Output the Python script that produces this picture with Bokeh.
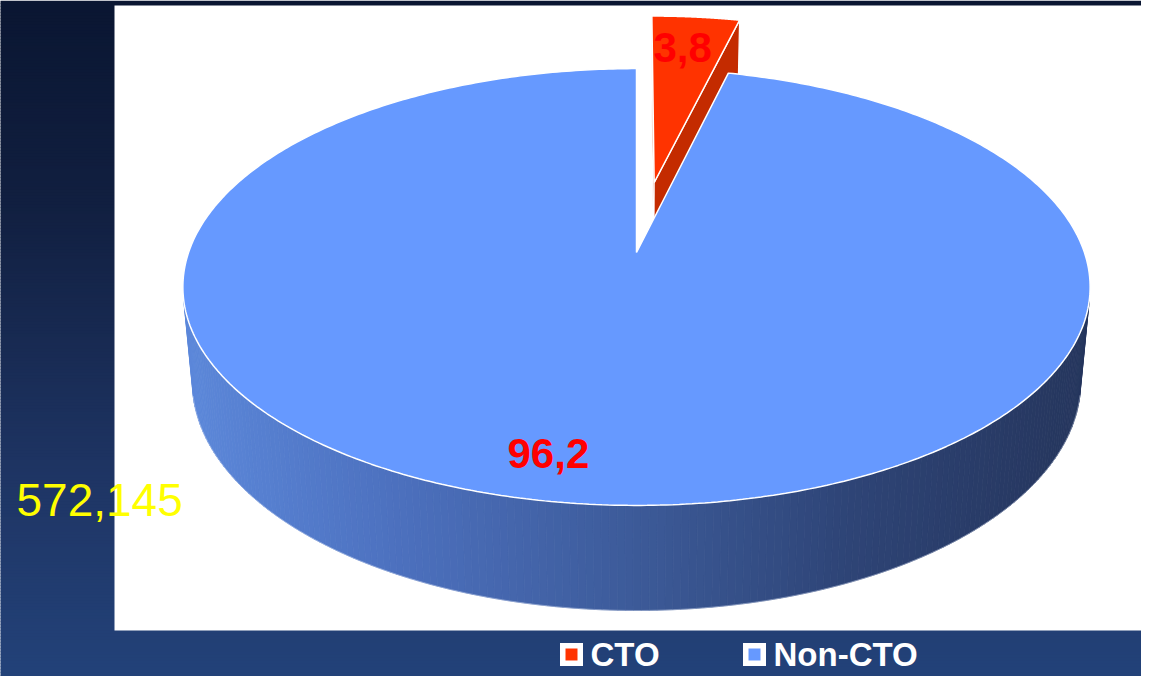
import numpy as np
from bokeh.plotting import figure
from bokeh.models import Range1d
from bokeh.embed import file_html
from bokeh.resources import INLINE
from bokeh.core.properties import value

# ---------------- data ----------------
categories = ["CTO", "Non-CTO"]
shares = [3.8, 96.2]
share_labels = ["3,8", "96,2"]
total_label = "572,145"
top_colors = ["#ff3300", "#6699ff"]
cut_colors = ["#c42b00", "#4a72c4"]
explode = [0.349, 0.0]

# ---------------- 3D camera (perspective) ----------------
F, D = 2495.0, 5.57
SIN_E = 0.4754
COS_E = float(np.sqrt(1 - SIN_E ** 2))
CX, CY = 636.0, 252.0
H = 0.2434
CAM = np.array([0.0, D * SIN_E, -D * COS_E])


def proj(X, Y, Z):
    X = np.atleast_1d(np.asarray(X, float))
    Z = np.atleast_1d(np.asarray(Z, float))
    Y = np.zeros_like(X) + Y
    yp = Y * COS_E + Z * SIN_E
    zp = -Y * SIN_E + Z * COS_E
    return CX + F * X / (D + zp), CY - F * yp / (D + zp)


def lerp_stops(v, stops):
    xs = [s[0] for s in stops]
    out = []
    for k in range(3):
        out.append(int(round(np.interp(v, xs, [s[1][k] for s in stops]))))
    return "#%02x%02x%02x" % tuple(out)


W, HH = 1141, 676
p = figure(width=W, height=HH, output_backend="svg", toolbar_location=None,
           x_range=Range1d(0, W), y_range=Range1d(HH, 0),
           min_border=0)
p.axis.visible = False
p.grid.visible = False
p.outline_line_color = None
p.background_fill_color = "#ffffff"
p.border_fill_color = "#ffffff"

# ---------------- slide background gradient ----------------
bg_stops = [(0, (10, 22, 50)), (200, (17, 31, 64)), (490, (31, 54, 102)), (692, (35, 67, 123))]
ys = np.arange(0, 694, 3)
p.quad(left=-5, right=1160, top=ys[:-1], bottom=ys[1:] + 0.5,
       fill_color=[lerp_stops(y, bg_stops) for y in ys[:-1]],
       line_color=None)
# white chart panel
p.quad(left=[114], right=[1160], top=[5], bottom=[630], fill_color="white", line_color=None)

# ---------------- pie geometry ----------------
starts, ends = [], []
a = 90.0
for s in shares:
    starts.append(a)
    a -= s * 3.6
    ends.append(a)

side_stops = [(185, (92, 136, 218)), (400, (76, 112, 190)), (640, (60, 90, 152)),
              (850, (46, 68, 118)), (1090, (37, 53, 92))]

order = sorted(range(len(shares)), key=lambda i: -explode[i])  # exploded (back) first
for i in order:
    a0, a1 = np.radians(starts[i]), np.radians(ends[i])
    mid = (a0 + a1) / 2
    ox, oz = explode[i] * np.cos(mid), explode[i] * np.sin(mid)
    rel = CAM - np.array([ox, 0.0, oz])

    # outer side (front-facing part)
    t = np.linspace(a1, a0, 400)
    nvis = np.cos(t) * (rel[0] - np.cos(t)) + np.sin(t) * (rel[2] - np.sin(t))
    tv = t[nvis > 0]
    if len(tv) > 1:
        tx, ty = proj(ox + np.cos(tv), 0.0, oz + np.sin(tv))
        bx, by = proj(ox + np.cos(tv), -H, oz + np.sin(tv))
        xs_l, ys_l, cols = [], [], []
        for k in range(len(tv) - 1):
            xs_l.append([tx[k], tx[k + 1], bx[k + 1], bx[k]])
            ys_l.append([ty[k], ty[k + 1], by[k + 1], by[k]])
            cols.append(lerp_stops((tx[k] + tx[k + 1] + bx[k] + bx[k + 1]) / 4, side_stops))
        p.patches(xs_l, ys_l, fill_color=cols, line_color=cols, line_width=0.8)
        p.line(bx, by, line_color="#d8e2f5", line_width=0.8, line_alpha=0.5)

    # radial cut faces
    for ang, sign in ((a0, 1), (a1, -1)):
        n = np.array([-np.sin(ang), 0.0, np.cos(ang)]) * sign
        if np.dot(n, rel) > 1e-3:
            X = np.array([ox, ox + np.cos(ang), ox + np.cos(ang), ox])
            Z = np.array([oz, oz + np.sin(ang), oz + np.sin(ang), oz])
            Yv = np.array([0.0, 0.0, -H, -H])
            yp = Yv * COS_E + Z * SIN_E
            zp = -Yv * SIN_E + Z * COS_E
            qx = CX + F * X / (D + zp)
            qy = CY - F * yp / (D + zp)
            p.patch(qx, qy, fill_color=cut_colors[i], line_color="white", line_width=1.2)

    # top face
    ta = np.linspace(a0, a1, 500)
    fx = np.concatenate([[ox], ox + np.cos(ta)])
    fz = np.concatenate([[oz], oz + np.sin(ta)])
    sx, sy = proj(fx, 0.0, fz)
    p.patch(sx, sy, fill_color=top_colors[i], line_color="white", line_width=1.5)

# ---------------- data labels (y = vertical middle of the text) ----------------
label_pos = [(653, 47), (507, 453)]
for lab, (lx, ly) in zip(share_labels, label_pos):
    p.text(x=[lx], y=[ly], text=[lab], text_color="#ff0000",
           text_font=value("Liberation Sans"), text_font_style="bold",
           text_font_size="42px", text_align="left", text_baseline="middle")

p.text(x=[16], y=[499], text=[total_label], text_color="#ffff00",
       text_font=value("Liberation Sans"), text_font_size="46px",
       text_align="left", text_baseline="middle")

# ---------------- legend ----------------
leg_x = [571, 754]
leg_y = 654
p.rect(x=leg_x, y=[leg_y] * 2, width=23, height=23, fill_color="white", line_color=None)
p.rect(x=leg_x, y=[leg_y] * 2, width=12, height=12, fill_color=top_colors, line_color=None)
p.text(x=[lx + 19 for lx in leg_x], y=[leg_y] * 2, text=categories, text_color="white",
       text_font=value("Liberation Sans"), text_font_style="bold",
       text_font_size="33px", text_align="left", text_baseline="middle")

open("out.html", "w").write(file_html(p, INLINE))
